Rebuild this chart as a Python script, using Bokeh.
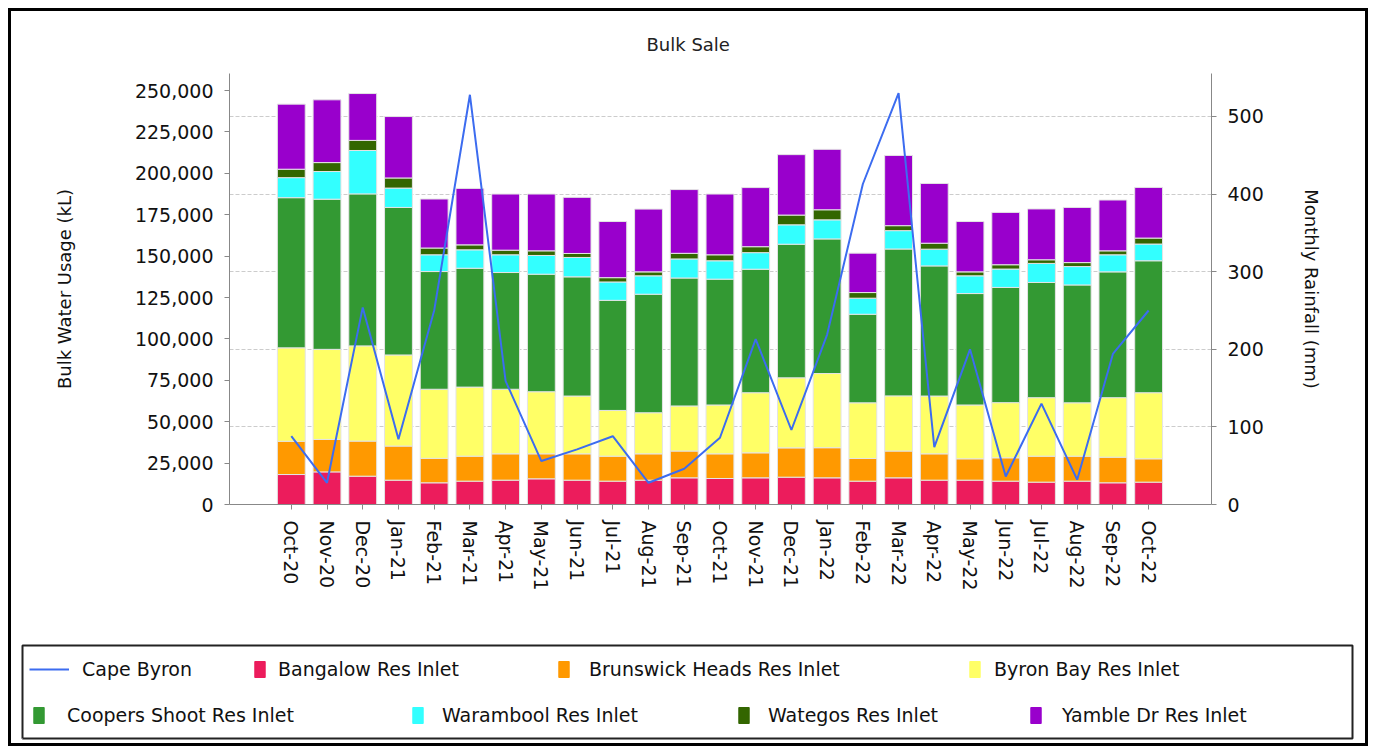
import math
from bokeh.plotting import figure
from bokeh.layouts import column
from bokeh.models import (ColumnDataSource, Range1d, LinearAxis, FixedTicker, NumeralTickFormatter,
                          Legend, LegendItem, Grid)
from bokeh.embed import file_html
from bokeh.resources import INLINE

months = ["Oct-20", "Nov-20", "Dec-20", "Jan-21", "Feb-21", "Mar-21", "Apr-21", "May-21", "Jun-21",
          "Jul-21", "Aug-21", "Sep-21", "Oct-21", "Nov-21", "Dec-21", "Jan-22", "Feb-22", "Mar-22",
          "Apr-22", "May-22", "Jun-22", "Jul-22", "Aug-22", "Sep-22", "Oct-22"]

bangalow = [18100, 19700, 17100, 14700, 13100, 14100, 14700, 15500, 14700, 14100, 14700, 16100, 15700,
            16100, 16500, 16100, 14100, 16100, 14700, 14700, 14100, 13500, 14100, 13100, 13500]
brunswick = [20100, 19600, 21200, 20600, 14800, 15100, 15900, 15100, 15900, 15100, 15900, 16200, 14900,
             15100, 17700, 18200, 13700, 16200, 15900, 12900, 14100, 15700, 15100, 15500, 14100]
byron_bay = [56400, 54400, 57500, 55000, 41700, 41700, 39000, 37500, 34900, 27600, 24800, 27200, 29500,
             36300, 42300, 44800, 33600, 33300, 34900, 32500, 33300, 35300, 32200, 35900, 39900]
coopers = [90700, 90700, 91800, 89100, 71100, 71800, 70500, 71000, 72000, 66500, 71600, 77300, 76000,
           74600, 80700, 81300, 53500, 88700, 78600, 67300, 69600, 69600, 71200, 76000, 79700]
warambool = [12100, 16700, 26200, 11700, 10100, 11100, 10700, 11300, 11700, 11100, 11100, 11500, 11100,
             10000, 11700, 11500, 9700, 11100, 10100, 10700, 11100, 11500, 11100, 10300, 10100]
wategos = [5100, 5400, 6100, 6100, 4100, 3000, 2800, 2800, 2400, 2600, 2400, 3400, 3600,
           3600, 5900, 6100, 3400, 3000, 3600, 2400, 2600, 2200, 2400, 2400, 3600]
yamble = [39300, 37900, 28300, 37100, 29600, 34100, 33900, 34300, 33900, 33900, 37900, 38500, 36700,
          35700, 36500, 36500, 23800, 42400, 36100, 30400, 31600, 30700, 33300, 30700, 30600]
rainfall = [88, 28, 254, 84, 250, 528, 159, 56, 71, 88, 28, 46, 86, 213, 96, 219, 413, 530, 74, 200,
            36, 130, 32, 194, 250]

series_names = ["Bangalow Res Inlet", "Brunswick Heads Res Inlet", "Byron Bay Res Inlet",
                "Coopers Shoot Res Inlet", "Warambool Res Inlet", "Wategos Res Inlet", "Yamble Dr Res Inlet"]
series_values = [bangalow, brunswick, byron_bay, coopers, warambool, wategos, yamble]
series_colors = ["#EC1C5C", "#FF9900", "#FFFF66", "#339933", "#33FFFF", "#336600", "#9900CC"]
line_color = "#3C6CF0"
line_label = "Cape Byron"

FONT = "DejaVu Sans"
TXT = "#111111"
W = 1354
H_MAIN, H_LEG = 621, 111
ML, MR, MT, MB = 218, 154, 62, 128
BORDER = "3px solid black"
TICK_FS = "19px"
LABEL_FS = "18px"

xs = list(range(len(months)))
data = {"x": xs, "rain": rainfall}
keys = []
for i, vals in enumerate(series_values):
    k = f"s{i}"
    keys.append(k)
    data[k] = vals
source = ColumnDataSource(data)

p = figure(width=W, height=H_MAIN, output_backend="svg", toolbar_location=None,
           x_range=Range1d(-1.73, 25.76), y_range=Range1d(0, 260300),
           min_border_left=ML, min_border_right=MR, min_border_top=MT, min_border_bottom=MB,
           background_fill_color="white", border_fill_color="white")
p.outline_line_color = None
p.title.text = "Bulk Sale"
p.title.align = "left"
p.title.offset = 417
p.title.standoff = 38
p.title.text_font = FONT
p.title.text_font_size = "18px"
p.title.text_font_style = "normal"
p.title.text_color = "#222222"

p.extra_y_ranges = {"rain": Range1d(0, 555.4)}

renderers = p.vbar_stack(keys, x="x", width=0.78, color=series_colors, source=source,
                         line_color="#e4e4e4", line_width=1)
rline = p.line(x="x", y="rain", source=source, y_range_name="rain", line_color=line_color, line_width=2)

AX = "#888888"
xa = p.xaxis[0]
xa.ticker = FixedTicker(ticks=xs)
xa.major_label_overrides = {i: m for i, m in enumerate(months)}
xa.major_label_orientation = -math.pi / 2
xa.major_label_standoff = 11
xa.major_label_text_font = FONT
xa.major_label_text_font_size = TICK_FS
xa.major_label_text_color = TXT
xa.axis_line_color = AX
xa.major_tick_line_color = AX
xa.minor_tick_line_color = None
xa.major_tick_in = 0
xa.major_tick_out = 5

ya = p.yaxis[0]
ya.ticker = FixedTicker(ticks=list(range(0, 250001, 25000)))
ya.formatter = NumeralTickFormatter(format="0,0")
ya.axis_label = "Bulk Water Usage (kL)"
ya.axis_label_text_font = FONT
ya.axis_label_text_font_size = LABEL_FS
ya.axis_label_text_font_style = "normal"
ya.axis_label_text_color = TXT
ya.axis_label_standoff = 57
ya.major_label_standoff = 11
ya.major_label_text_font = FONT
ya.major_label_text_font_size = TICK_FS
ya.major_label_text_color = TXT
ya.axis_line_color = AX
ya.major_tick_line_color = AX
ya.minor_tick_line_color = None
ya.major_tick_in = 0
ya.major_tick_out = 5

ra = LinearAxis(y_range_name="rain", axis_label="Monthly Rainfall (mm)",
                ticker=FixedTicker(ticks=[0, 100, 200, 300, 400, 500]))
ra.axis_label_text_font = FONT
ra.axis_label_text_font_size = LABEL_FS
ra.axis_label_text_font_style = "normal"
ra.axis_label_text_color = TXT
ra.axis_label_standoff = 34
ra.major_label_standoff = 11
ra.major_label_text_font = FONT
ra.major_label_text_font_size = TICK_FS
ra.major_label_text_color = TXT
ra.axis_line_color = AX
ra.major_tick_line_color = AX
ra.minor_tick_line_color = None
ra.major_tick_in = 0
ra.major_tick_out = 5
p.add_layout(ra, "right")

p.xgrid.visible = False
p.ygrid.visible = False
g = Grid(dimension=1, ticker=FixedTicker(ticks=[100, 200, 300, 400, 500]), y_range_name="rain",
         grid_line_color="#cccccc", grid_line_dash="4 2", grid_line_width=1)
p.add_layout(g)

# ---- legend panel (separate figure, separate root so frames are not aligned) ----
lp = figure(width=W, height=H_LEG, output_backend="svg", toolbar_location=None,
            x_range=Range1d(0, 1), y_range=Range1d(0, 1),
            x_axis_location=None, y_axis_location=None,
            min_border_left=11, min_border_right=13, min_border_top=13, min_border_bottom=5,
            background_fill_color="white", border_fill_color="white")
lp.outline_line_color = "#222222"
lp.outline_line_width = 2
lp.xgrid.visible = False
lp.ygrid.visible = False

# legend proxies: one point each, placed outside the visible range
leg_renderers = [lp.line(x=[-5, -4], y=[-5, -5], line_color=line_color, line_width=2)]
for c in series_colors:
    leg_renderers.append(lp.vbar(x=[-5], top=[-5], width=1, fill_color=c, line_color=c))
leg_labels = [line_label] + series_names

# (x offset of glyph from legend box left, y offset of item bottom from box bottom, glyph width, standoff)
leg_pos = [(7, 58, 40, 13), (231, 58, 13, 12), (535, 58, 13, 19), (946, 58, 13, 13),
           (10, 12, 13, 22), (389, 12, 13, 18), (715, 12, 13, 18), (1007, 12, 13, 20)]
for lab, r, (lx, ly, gw, so) in zip(leg_labels, leg_renderers, leg_pos):
    lg = Legend(items=[LegendItem(label=lab, renderers=[r])], location=(lx, ly),
                orientation="horizontal", padding=0, margin=0, spacing=0,
                label_text_font=FONT, label_text_font_size="19px", label_text_color=TXT,
                glyph_width=gw, glyph_height=20, label_height=20, label_standoff=so,
                border_line_color=None, background_fill_alpha=0)
    lp.add_layout(lg)

top = column(p, spacing=0, margin=(8, 0, 0, 8),
             styles={"border-top": BORDER, "border-left": BORDER, "border-right": BORDER,
                     "background-color": "white"})
bottom = column(lp, spacing=0, margin=(0, 0, 0, 8),
                styles={"border-bottom": BORDER, "border-left": BORDER, "border-right": BORDER,
                        "background-color": "white"})

open("out.html", "w").write(file_html([top, bottom], INLINE))
